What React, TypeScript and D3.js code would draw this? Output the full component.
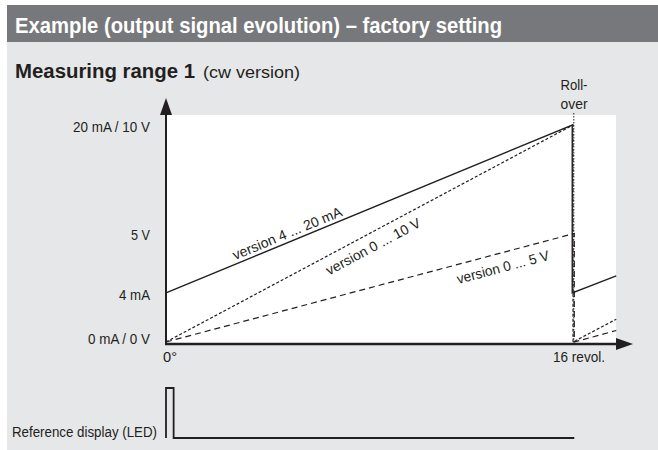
import React, { useEffect } from 'react';
import * as d3 from 'd3';

// ---- text ----
const title = 'Example (output signal evolution) – factory setting';
const subtitleBold = 'Measuring range 1';
const subtitleRegular = '(cw version)';
const rolloverLines = ['Roll-', 'over'];
const ledLabel = 'Reference display (LED)';

// ---- axis ticks (fraction of full-scale output) ----
const yTickValues = [0, 0.226, 0.5, 1];
const yTickLabels = ['0 mA / 0 V', '4 mA', '5 V', '20 mA / 10 V'];
const yTickWidths = [62, 31, 19, 77];
const xTickValues = [0, 16];
const xTickLabels = ['0°', '16 revol.'];
const xTickWidths = [14, 52];

// ---- signal series (revolutions -> fraction of full scale) ----
const rolloverAt = 16;
const revCurrent = [0, 15.97, 15.97, 17.7];
const current420 = [0.226, 1, 0.226, 0.305];
const revVolt10 = [0, 16, 16, 17.7];
const volt010 = [0, 1, 0, 0.105];
const revVolt5 = [0, 16.05, 16.05, 17.7];
const volt05 = [0, 0.5, 0, 0.053];

// ---- series labels ----
const seriesLabels = ['version 4 ... 20 mA', 'version 0 ... 10 V', 'version 0 ... 5 V'];
const seriesLabelRev = [4.9, 7.9, 13.1];

// ---- LED reference display ----
const ledRevs = [0, 0, 0.3, 0.3, 16.05];
const ledLevel = [0, 1, 1, 0, 0];

const FONT = '"Liberation Sans", Arial, Helvetica, sans-serif';
const INK = '#231f20';

export default function App() {
  useEffect(() => {
    document.body.style.margin = '0';
  }, []);

  const W = 658;
  const H = 450;
  const x = d3.scaleLinear().domain([0, 16]).range([166, 573]);
  const y = d3.scaleLinear().domain([0, 1]).range([342, 125]);
  const yLed = d3.scaleLinear().domain([0, 1]).range([438, 388]);

  const line = d3
    .line<[number, number]>()
    .x((d) => x(d[0]))
    .y((d) => y(d[1]));
  const ledLine = d3
    .line<[number, number]>()
    .x((d) => x(d[0]))
    .y((d) => yLed(d[1]));

  const zip = (a: number[], b: number[]) => a.map((v, i) => [v, b[i]] as [number, number]);
  const series = [
    { pts: zip(revCurrent, current420), dash: undefined as string | undefined, w: 1.4 },
    { pts: zip(revVolt10, volt010), dash: '3,2', w: 1.2 },
    { pts: zip(revVolt5, volt05), dash: '6,4', w: 1.2 },
  ];

  const seg = [
    { r0: 0, v0: current420[0], r1: revCurrent[1], v1: current420[1], off: -4, len: 117 },
    { r0: 0, v0: volt010[0], r1: revVolt10[1], v1: volt010[1], off: 18, len: 105 },
    { r0: 0, v0: volt05[0], r1: revVolt5[1], v1: volt05[1], off: 19, len: 95 },
  ];

  const axisLeft = x(0);
  const axisBottom = 344;
  const axisTop = 98;
  const axisRight = 633;

  return (
    <svg width={W} height={H} style={{ display: 'block', position: 'absolute', left: 0, top: 0 }} fontFamily={FONT}>
      <rect x={0} y={0} width={W} height={H} fill="#ffffff" />
      <rect x={7} y={5} width={W - 7} height={37} fill="#77787b" />
      <rect x={7} y={42} width={W - 7} height={H - 42} fill="#e6e7e9" />
      <rect x={axisLeft} y={115} width={616 - axisLeft} height={axisBottom - 115} fill="#ffffff" />

      <text x={15} y={33} fill="#ffffff" fontSize={22} fontWeight="bold" textLength={487} lengthAdjust="spacingAndGlyphs">
        {title}
      </text>
      <text x={15} y={78} fill={INK} fontSize={20} fontWeight="bold" textLength={180} lengthAdjust="spacingAndGlyphs">
        {subtitleBold}
      </text>
      <text x={203} y={78} fill={INK} fontSize={17} textLength={97} lengthAdjust="spacingAndGlyphs">
        {subtitleRegular}
      </text>

      {yTickValues.map((v, i) => (
        <text
          key={'yt' + i}
          x={150}
          y={y(v) + (v === 0 ? -3 : 2)}
          dy="0.35em"
          textAnchor="end"
          fontSize={14}
          fill={INK}
          textLength={yTickWidths[i]}
          lengthAdjust="spacingAndGlyphs"
        >
          {yTickLabels[i]}
        </text>
      ))}

      {xTickValues.map((v, i) => (
        <text
          key={'xt' + i}
          x={x(v) + (i === 0 ? 4 : 6)}
          y={357}
          dy="0.35em"
          textAnchor="middle"
          fontSize={14}
          fill={INK}
          textLength={xTickWidths[i]}
          lengthAdjust="spacingAndGlyphs"
        >
          {xTickLabels[i]}
        </text>
      ))}

      <line x1={x(rolloverAt) + 0.8} x2={x(rolloverAt) + 0.8} y1={113} y2={axisBottom} stroke={INK} strokeWidth={1} strokeDasharray="1.5,1.5" />
      {rolloverLines.map((t, i) => (
        <text
          key={'ro' + i}
          x={x(rolloverAt) + 1}
          y={85 + i * 19}
          dy="0.35em"
          textAnchor="middle"
          fontSize={14}
          fill={INK}
          textLength={27}
          lengthAdjust="spacingAndGlyphs"
        >
          {t}
        </text>
      ))}

      {series.map((s, i) => (
        <path key={'s' + i} d={line(s.pts) || ''} fill="none" stroke={INK} strokeWidth={s.w} strokeDasharray={s.dash} />
      ))}

      {seg.map((g, i) => {
        const ang = (Math.atan2(y(g.v1) - y(g.v0), x(g.r1) - x(g.r0)) * 180) / Math.PI;
        const r = seriesLabelRev[i];
        const v = g.v0 + ((g.v1 - g.v0) * (r - g.r0)) / (g.r1 - g.r0);
        return (
          <text
            key={'sl' + i}
            transform={`translate(${x(r)},${y(v)}) rotate(${ang})`}
            y={g.off}
            textAnchor="middle"
            fontSize={14}
            fill={INK}
            textLength={g.len}
            lengthAdjust="spacingAndGlyphs"
          >
            {seriesLabels[i]}
          </text>
        );
      })}

      <line x1={axisLeft} x2={axisLeft} y1={axisBottom + 1} y2={axisTop + 14} stroke={INK} strokeWidth={2} />
      <path d={`M${axisLeft},${axisTop} L${axisLeft - 6},${axisTop + 17} L${axisLeft + 6},${axisTop + 17} Z`} fill={INK} />
      <line x1={axisLeft - 1} x2={axisRight - 14} y1={axisBottom} y2={axisBottom} stroke={INK} strokeWidth={2.4} />
      <path d={`M${axisRight},${axisBottom} L${axisRight - 17},${axisBottom - 6} L${axisRight - 17},${axisBottom + 6} Z`} fill={INK} />

      <text x={12} y={437} fontSize={14} fill={INK} textLength={145} lengthAdjust="spacingAndGlyphs">
        {ledLabel}
      </text>
      <path d={ledLine(zip(ledRevs, ledLevel)) || ''} fill="none" stroke={INK} strokeWidth={1.8} />
    </svg>
  );
}
